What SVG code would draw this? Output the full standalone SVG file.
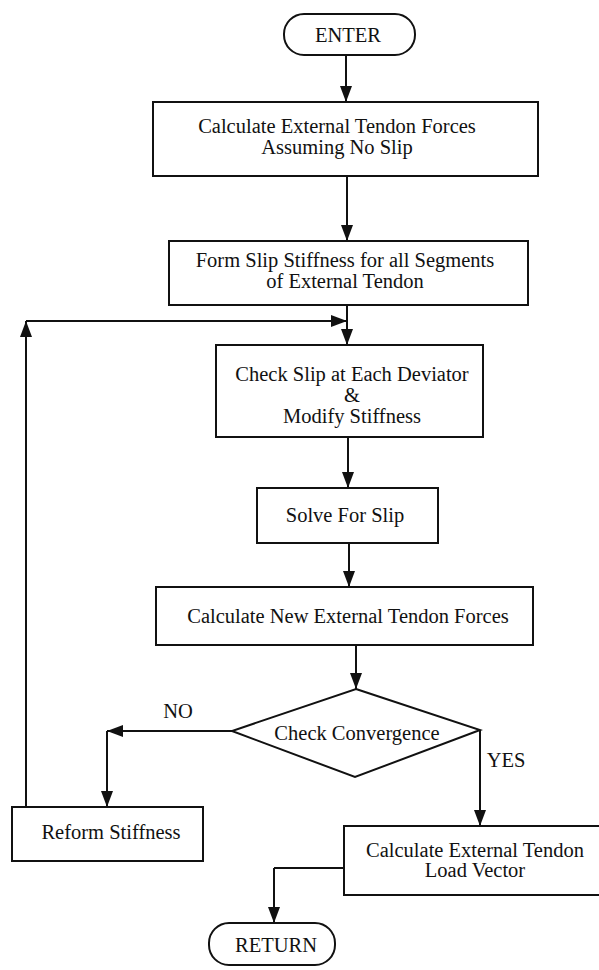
<svg xmlns="http://www.w3.org/2000/svg" width="599" height="970" viewBox="0 0 599 970">
  <style>
    .box { fill: #fff; stroke: #111; stroke-width: 2; }
    .ln { fill: none; stroke: #111; stroke-width: 2; marker-end: url(#arrow); }
    .plain { fill: none; stroke: #111; stroke-width: 2; }
    text { font-family: "Liberation Serif", "Times New Roman", serif; font-size: 20.5px; fill: #111; text-anchor: middle; }
  </style>
  <defs>
    <marker id="arrow" markerUnits="userSpaceOnUse" markerWidth="16" markerHeight="12" refX="16" refY="6" orient="auto">
      <path d="M0,0 L16,6 L0,12 z" fill="#111"/>
    </marker>
  </defs>
  <rect width="599" height="970" fill="#fff"/>

  <!-- connectors -->
  <g id="connectors">
    <path class="ln" d="M346,55 V102"/>
    <path class="ln" d="M347,176 V241"/>
    <path class="ln" d="M347,305 V345"/>
    <path class="ln" d="M26,807 V321"/>
    <path class="ln" d="M26,321 H347"/>
    <path class="ln" d="M348,437 V488"/>
    <path class="ln" d="M349,543 V587"/>
    <path class="ln" d="M356,645 V689"/>
    <path class="ln" d="M232,731 H107"/>
    <path class="ln" d="M107,731 V807"/>
    <path class="ln" d="M480,730 V826"/>
    <path class="plain" d="M344,868 H274"/>
    <path class="ln" d="M274,868 V923"/>
  </g>

  <g id="enter">
    <rect class="box" x="284" y="14" width="131" height="41" rx="20" ry="20"/>
    <text x="348" y="42">ENTER</text>
  </g>

  <g id="no-slip-forces">
    <rect class="box" x="153" y="102" width="385" height="74"/>
    <text x="337" y="133">Calculate External Tendon Forces</text>
    <text x="337" y="154">Assuming No Slip</text>
  </g>

  <g id="slip-stiffness">
    <rect class="box" x="169" y="241" width="359" height="64"/>
    <text x="345" y="267">Form Slip Stiffness for all Segments</text>
    <text x="345" y="288">of External Tendon</text>
  </g>

  <g id="check-slip">
    <rect class="box" x="216" y="345" width="267" height="92"/>
    <text x="352" y="381">Check Slip at Each Deviator</text>
    <text x="352" y="402">&amp;</text>
    <text x="352" y="423">Modify Stiffness</text>
  </g>

  <g id="solve">
    <rect class="box" x="257" y="488" width="181" height="55"/>
    <text x="345" y="522">Solve For Slip</text>
  </g>

  <g id="new-forces">
    <rect class="box" x="156" y="587" width="377" height="58"/>
    <text x="348" y="623">Calculate New External Tendon Forces</text>
  </g>

  <g id="convergence">
    <path class="box" d="M356,689 L480,730 L355,777 L232,731 Z"/>
    <text x="357" y="740">Check Convergence</text>
    <text x="178" y="718">NO</text>
    <text x="506" y="767">YES</text>
  </g>

  <g id="reform">
    <rect class="box" x="12" y="807" width="191" height="54"/>
    <text x="111" y="839">Reform Stiffness</text>
  </g>

  <g id="load-vector">
    <rect class="box" x="344" y="826" width="270" height="69"/>
    <text x="475" y="857">Calculate External Tendon</text>
    <text x="475" y="877">Load Vector</text>
  </g>

  <g id="return">
    <rect class="box" x="209" y="923" width="126" height="42" rx="20" ry="20"/>
    <text x="276" y="952">RETURN</text>
  </g>
</svg>
